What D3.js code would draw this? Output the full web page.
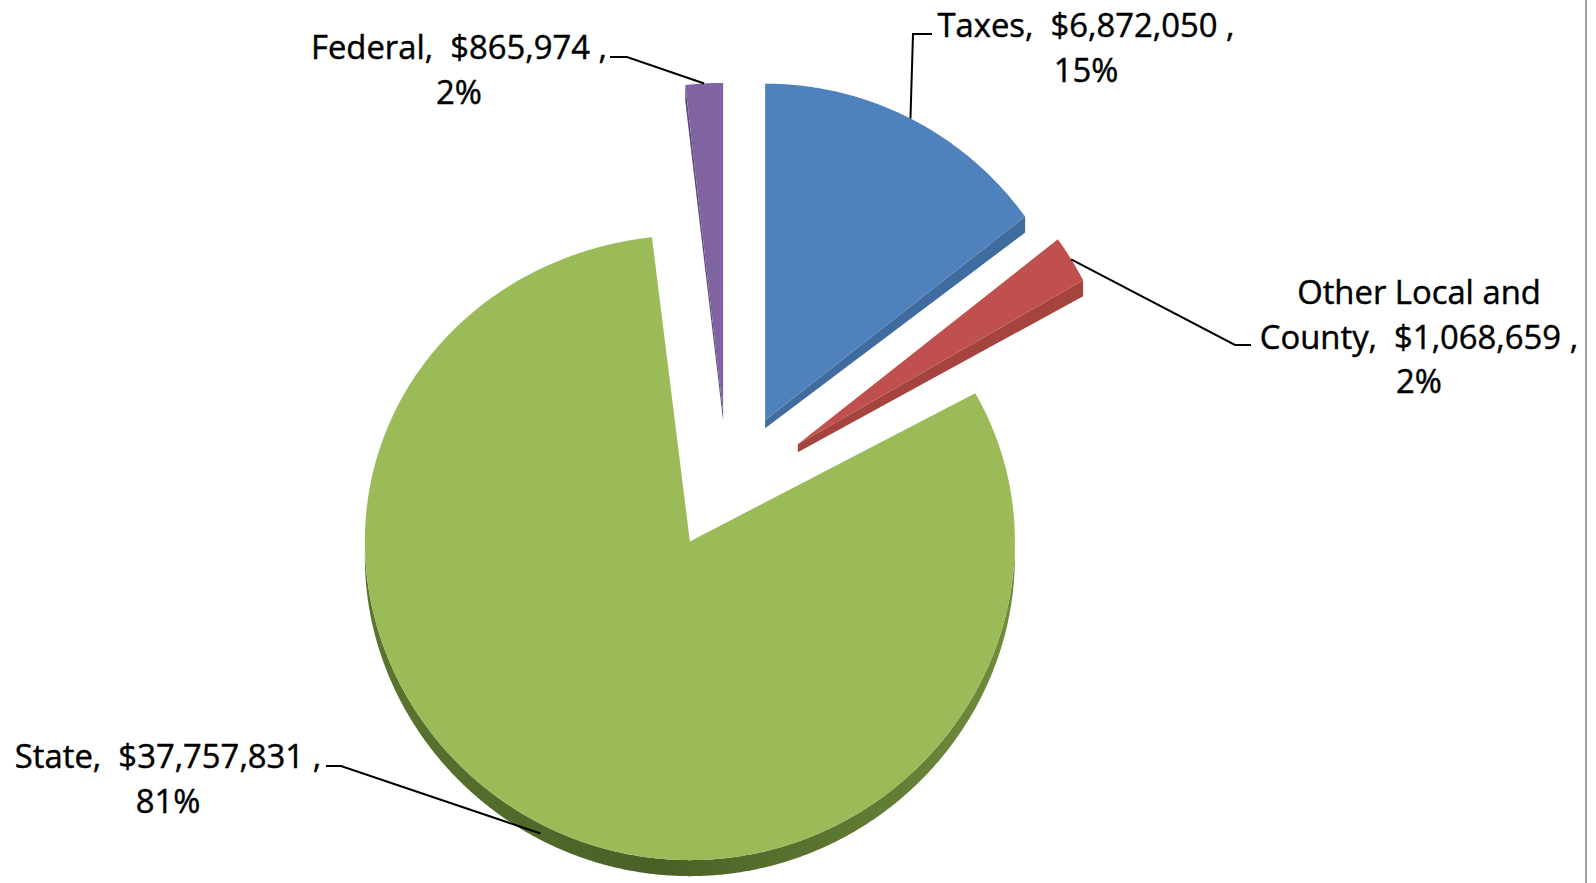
<!DOCTYPE html>
<html>
<head>
<meta charset="utf-8">
<script src="https://cdn.jsdelivr.net/npm/d3@7"></script>
<style>
  html, body { margin: 0; padding: 0; background: #fff; overflow: hidden; }
  text { white-space: pre; }
</style>
</head>
<body>
<svg id="chart" width="1596" height="883"></svg>
<script>
// Revenue by source
const categories = ["Taxes", "Other Local and County", "State", "Federal"];
const values = [6872050, 1068659, 37757831, 865974];
// how each category name wraps inside its data label
const nameLines = [["Taxes"], ["Other Local and", "County"], ["State"], ["Federal"]];

const topColors  = ["#4f81bd", "#c0504d", "#9bbb59", "#8064a2"];
const sideColors = ["#3f6b9f", "#a5433f", "#5b752f", "#5e497c"];

// ---- layout ----
const W = 1596, H = 883;
const center = { x: 728, y: 481 };
const explodeX = 83, explodeY = 68;   // exploded offset of every slice
const rx = 325, ry = 328, depth = 16;  // top-face ellipse and extrusion
const apexDepth = 0.5;                 // wall height at the centre, relative to the rim
// perspective: slice size varies with its exploded direction,
// and the near (lower) half of each slice is drawn a little deeper
const perspX = 0.045, perspY = 0.03, perspNear = 0.02;

// label block: centre x, first baseline; leader: elbow and tail points
const labelLayout = [
  { x: 1086, y: 37,  elbow: [913, 34],   tail: [932, 34] },
  { x: 1419, y: 304, elbow: [1235, 345], tail: [1251, 345] },
  { x: 168,  y: 768, elbow: [341, 766],  tail: [326, 766] },
  { x: 459,  y: 59,  elbow: [627, 57],   tail: [610, 57] }
];
const lineHeight = 44.5;

const svg = d3.select("#chart");
const total = d3.sum(values);
const fmtMoney = d3.format(",");
const fmtPct = d3.format(".0%");

const arcs = d3.pie().sort(null).value(d => d)(values);

// unit radius -> ellipse scale
const rScale = d3.scaleLinear().domain([0, 1]).range([0, 1]);

function geometry(d) {
  const mid = (d.startAngle + d.endAngle) / 2;
  return {
    mid,
    off: [explodeX * Math.sin(mid), -explodeY * Math.cos(mid)],
    ryEff: ry * (1 + perspX * Math.sin(mid) + perspY * Math.cos(mid))
  };
}

function point(a, r, z, G) {
  const yr = G.ryEff * (1 - perspNear * Math.cos(a));
  return [
    center.x + G.off[0] + rx * rScale(r) * Math.sin(a),
    center.y + G.off[1] - yr * rScale(r) * Math.cos(a) + z
  ];
}

function sampleArc(a0, a1, z, G) {
  const n = Math.max(2, Math.ceil((a1 - a0) / 0.004));
  return d3.range(n + 1).map(k => point(a0 + (a1 - a0) * k / n, 1, z, G));
}

const line = d3.line().curve(d3.curveLinearClosed);

// gradient for the curved outer wall of the big slice
const defs = svg.append("defs");
const grad = defs.append("linearGradient")
  .attr("id", "wallGrad").attr("gradientUnits", "userSpaceOnUse")
  .attr("x1", 360).attr("y1", 0).attr("x2", 1020).attr("y2", 0);
grad.append("stop").attr("offset", "0%").attr("stop-color", "#5a7530");
grad.append("stop").attr("offset", "45%").attr("stop-color", "#4a6026");
grad.append("stop").attr("offset", "100%").attr("stop-color", "#6f8e3c");

const gPie = svg.append("g");

arcs.forEach((d, i) => {
  const G = geometry(d);
  const apex = point(0, 0, 0, G);
  const g = gPie.append("g").attr("class", "slice");

  // curved outer wall, visible on the front half of the ellipse
  const w0 = Math.max(d.startAngle, Math.PI / 2);
  const w1 = Math.min(d.endAngle, 3 * Math.PI / 2);
  if (w1 > w0) {
    const topEdge = sampleArc(w0, w1, 0, G);
    const botEdge = sampleArc(w0, w1, depth, G).reverse();
    g.append("path")
      .attr("d", line(topEdge.concat(botEdge)))
      .attr("fill", i === 2 ? "url(#wallGrad)" : sideColors[i]);
  }

  // radial cut faces that turn toward the viewer
  const faces = [];
  if (Math.sin(d.startAngle) < -0.01) faces.push(d.startAngle);
  if (Math.sin(d.endAngle) > 0.01) faces.push(d.endAngle);
  faces.forEach(a => {
    const o0 = point(a, 1, 0, G), o1 = point(a, 1, depth, G);
    const p1 = point(0, 0, depth * apexDepth, G);
    g.append("path")
      .attr("d", line([apex, o0, o1, p1]))
      .attr("fill", sideColors[i]);
  });

  // top face
  g.append("path")
    .attr("d", line([apex].concat(sampleArc(d.startAngle, d.endAngle, 0, G))))
    .attr("fill", topColors[i]);
});

// leader lines
const gLead = svg.append("g");
arcs.forEach((d, i) => {
  const G = geometry(d);
  const z = Math.cos(G.mid) < 0 ? depth * 0.6 : 0;
  const edge = point(G.mid, 1, z, G);
  const L = labelLayout[i];
  gLead.append("path")
    .attr("d", d3.line()([edge, L.elbow, L.tail]))
    .attr("fill", "none")
    .attr("stroke", "#000")
    .attr("stroke-width", 2);
});

// data labels
const gLab = svg.append("g")
  .attr("font-family", "'Open Sans', sans-serif")
  .attr("font-size", 32.8)
  .attr("fill", "#000")
  .attr("stroke", "#000")
  .attr("stroke-width", 0.45)
  .attr("text-anchor", "middle");

values.forEach((v, i) => {
  const names = nameLines[i];
  const lines = names.slice(0, -1)
    .concat([names[names.length - 1] + ",  $" + fmtMoney(v) + " ,", fmtPct(v / total)]);
  const L = labelLayout[i];
  const t = gLab.append("text").attr("x", L.x).attr("y", L.y);
  lines.forEach((s, k) => {
    t.append("tspan").attr("x", L.x).attr("y", L.y + k * lineHeight).text(s);
  });
});

// right frame edge
svg.append("line")
  .attr("x1", 1586).attr("x2", 1586).attr("y1", 0).attr("y2", H)
  .attr("stroke", "#a3a3a3").attr("stroke-width", 2);
</script>
</body>
</html>
